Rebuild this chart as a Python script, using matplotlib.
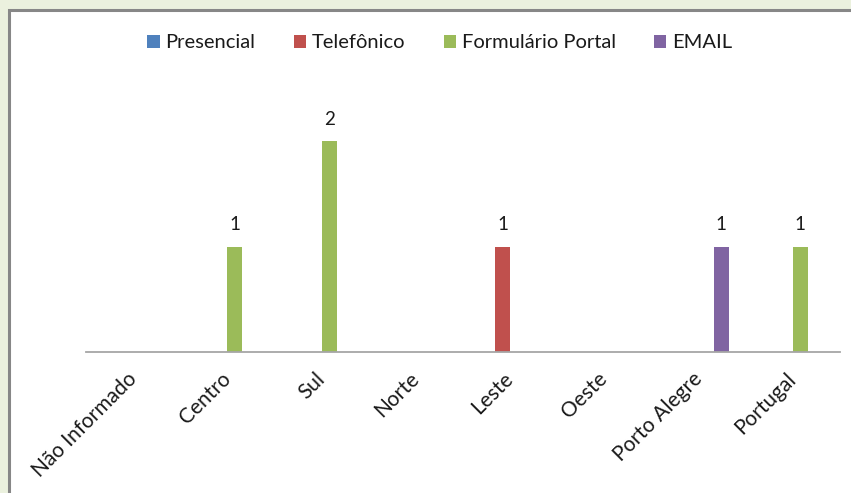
import matplotlib
matplotlib.use("Agg")
import matplotlib.pyplot as plt
import numpy as np
from matplotlib.patches import Rectangle
from matplotlib.transforms import ScaledTranslation

categories = ["Não Informado", "Centro", "Sul", "Norte", "Leste", "Oeste", "Porto Alegre", "Portugal"]
series_names = ["Presencial", "Telefônico", "Formulário Portal", "EMAIL"]
presencial = [0, 0, 0, 0, 0, 0, 0, 0]
telefonico = [0, 0, 0, 0, 1, 0, 0, 0]
formulario = [0, 1, 2, 0, 0, 0, 0, 1]
email = [0, 0, 0, 0, 0, 0, 1, 0]
colors = ["#4f81bd", "#c0504d", "#9bbb59", "#8064a2"]

plt.rcParams['font.family'] = ['Lato', 'DejaVu Sans']

W, H = 851, 493
fig = plt.figure(figsize=(W / 100, H / 100), dpi=100)
fig.patch.set_facecolor("#ebf1de")
# white chart area with grey border (right and bottom edges cropped off)
fig.patches.append(Rectangle((9 / W, -0.1), 1.2, 1.1 - 10 / H, transform=fig.transFigure,
                             facecolor="white", edgecolor="#878787", linewidth=2.2, zorder=-5))

ax = fig.add_axes([86 / W, 1 - 352 / H, (840 - 86) / W, 253 / H])
ax.set_facecolor("none")
ax.set_zorder(2)
x = np.arange(len(categories))
w = 0.16
all_series = [presencial, telefonico, formulario, email]
handles = []
for i, (vals, c, name) in enumerate(zip(all_series, colors, series_names)):
    bars = ax.bar(x + (i - 1.5) * w, vals, width=w, color=c, label=name)
    handles.append(bars)
    for xi, v in zip(x, vals):
        if v > 0:
            ax.annotate(str(v), (xi + (i - 1.5) * w, v), xytext=(0, 9.5), textcoords="offset points",
                        ha="center", va="bottom", fontsize=13.5, color="#1a1a1a")

ax.set_xlim(-0.5, len(categories) - 0.5)
ax.set_ylim(0, 2.4)
for s in ["top", "right", "left"]:
    ax.spines[s].set_visible(False)
ax.spines["bottom"].set_color("#a6a6a6")
ax.spines["bottom"].set_linewidth(1.3)
ax.set_yticks([])
ax.set_xticks(x)
ax.set_xticklabels(categories, rotation=45, ha="right", rotation_mode="anchor",
                   fontsize=15, color="#1a1a1a")
ax.tick_params(axis="x", length=0, pad=12)
off = ScaledTranslation(-5 / 72, 0, fig.dpi_scale_trans)
for lbl in ax.get_xticklabels():
    lbl.set_transform(lbl.get_transform() + off)

leg = fig.legend(handles=handles, labels=series_names, loc="center", bbox_to_anchor=(440 / W, 1 - 43 / H),
                 ncol=4, frameon=False, fontsize=14.5, handlelength=0.6, handleheight=0.6,
                 handletextpad=0.3, columnspacing=1.9, labelcolor="#1a1a1a")

fig.savefig("out.png", dpi=100, facecolor=fig.get_facecolor())
